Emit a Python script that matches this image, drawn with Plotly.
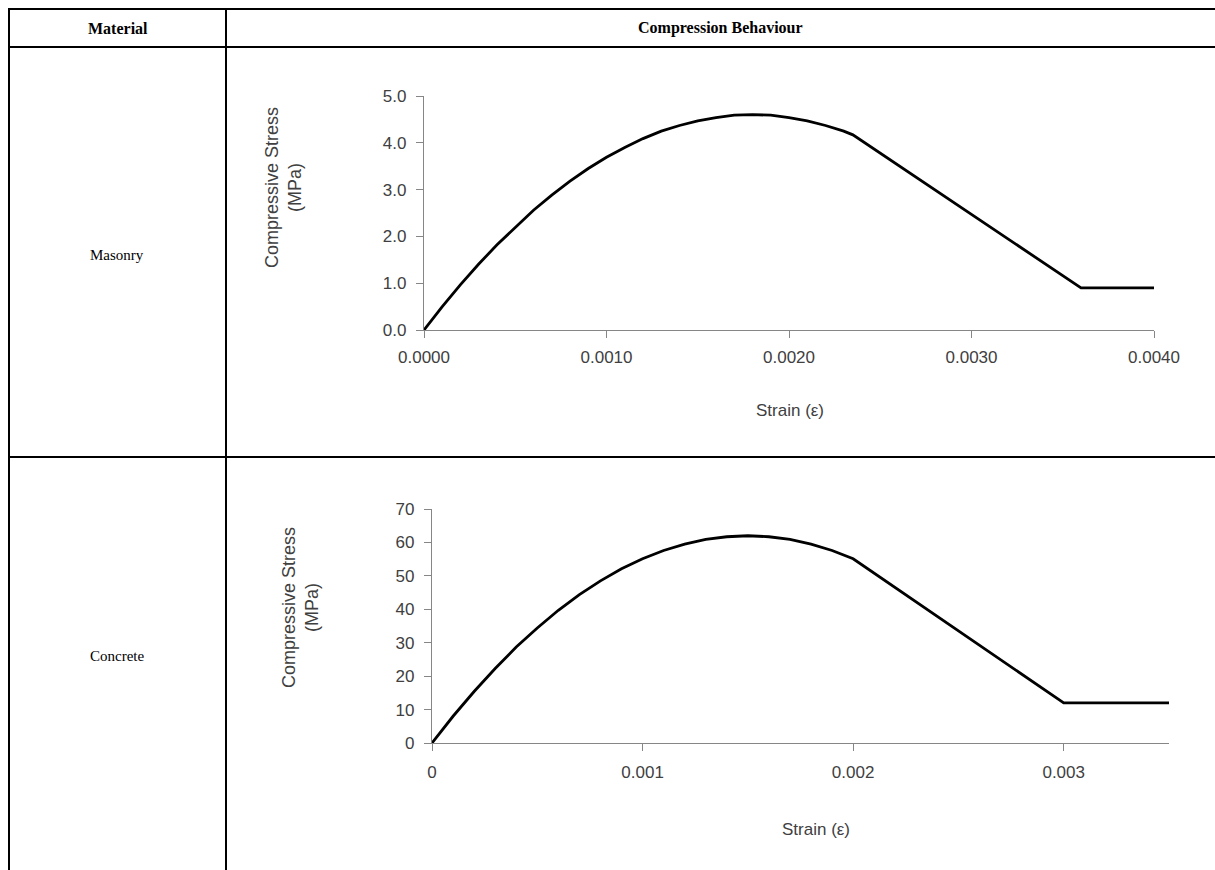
import plotly.graph_objects as go

# ---------------- data ----------------
masonry_strain = [0.0, 0.0001, 0.0002, 0.0003, 0.0004, 0.0005, 0.0006, 0.0007, 0.0008,
                  0.0009, 0.0010, 0.0011, 0.0012, 0.0013, 0.0014, 0.0015, 0.0016,
                  0.0017, 0.0018, 0.0019, 0.0020, 0.0021, 0.0022, 0.0023, 0.00235,
                  0.0036, 0.0040]
masonry_stress = [0.0, 0.50, 0.97, 1.41, 1.82, 2.20, 2.56, 2.88, 3.18,
                  3.45, 3.69, 3.90, 4.09, 4.25, 4.37, 4.47, 4.54,
                  4.59, 4.60, 4.59, 4.54, 4.47, 4.37, 4.25, 4.17,
                  0.90, 0.90]

concrete_strain = [0.0, 0.0001, 0.0002, 0.0003, 0.0004, 0.0005, 0.0006, 0.0007, 0.0008,
                   0.0009, 0.0010, 0.0011, 0.0012, 0.0013, 0.0014, 0.0015, 0.0016,
                   0.0017, 0.0018, 0.0019, 0.0020, 0.0030, 0.0035]
concrete_stress = [0.0, 8.0, 15.4, 22.3, 28.7, 34.4, 39.7, 44.4, 48.5,
                   52.1, 55.1, 57.6, 59.5, 60.9, 61.7, 62.0, 61.7,
                   60.9, 59.5, 57.6, 55.1, 12.0, 12.0]

masonry_xticks = [0.0, 0.001, 0.002, 0.003, 0.004]
masonry_xticktext = ["0.0000", "0.0010", "0.0020", "0.0030", "0.0040"]
masonry_yticks = [0, 1, 2, 3, 4, 5]
masonry_yticktext = ["0.0", "1.0", "2.0", "3.0", "4.0", "5.0"]

concrete_xticks = [0.0, 0.001, 0.002, 0.003]
concrete_xticktext = ["0", "0.001", "0.002", "0.003"]
concrete_yticks = [0, 10, 20, 30, 40, 50, 60, 70]
concrete_yticktext = ["0", "10", "20", "30", "40", "50", "60", "70"]

header_labels = ["Material", "Compression Behaviour"]
row_labels = ["Masonry", "Concrete"]
x_title = "Strain (ε)"
y_title = "Compressive Stress<br>(MPa)"

# ---------------- layout helpers ----------------
W, H = 1215, 870


def px(x):
    return x / W


def py(y):
    return 1 - y / H


AXIS_GRAY = "#868686"
TXT = "#404040"
SANS = "Liberation Sans, Arial, sans-serif"
SERIF = "Liberation Serif, Times New Roman, serif"
TICKFONT = dict(family=SANS, size=17, color=TXT)

fig = go.Figure()
fig.add_trace(go.Scatter(x=masonry_strain, y=masonry_stress, mode="lines",
                         line=dict(color="black", width=2.8), xaxis="x", yaxis="y",
                         showlegend=False, hoverinfo="skip"))
fig.add_trace(go.Scatter(x=concrete_strain, y=concrete_stress, mode="lines",
                         line=dict(color="black", width=2.8), xaxis="x2", yaxis="y2",
                         showlegend=False, hoverinfo="skip"))

common_axis = dict(showline=True, linecolor=AXIS_GRAY, linewidth=1.3, ticks="outside",
                   ticklen=7, tickcolor=AXIS_GRAY, tickwidth=1.3, showgrid=False,
                   zeroline=False, fixedrange=True, tickfont=TICKFONT, automargin=False)

fig.update_layout(
    width=W, height=H, margin=dict(l=0, r=0, t=0, b=0, autoexpand=False),
    paper_bgcolor="white", plot_bgcolor="white", showlegend=False,
    xaxis=dict(domain=[px(424), px(1154)], range=[0, 0.004], tickmode="array",
               tickvals=masonry_xticks, ticktext=masonry_xticktext, anchor="y",
               ticklabelstandoff=4, **common_axis),
    yaxis=dict(domain=[py(330), py(96)], range=[0, 5], tickmode="array",
               tickvals=masonry_yticks, ticktext=masonry_yticktext, anchor="x",
               ticklabelstandoff=6, **common_axis),
    xaxis2=dict(domain=[px(432), px(1169)], range=[0, 0.0035], tickmode="array",
                tickvals=concrete_xticks, ticktext=concrete_xticktext, anchor="y2",
                ticklabelstandoff=6, **common_axis),
    yaxis2=dict(domain=[py(743), py(509)], range=[0, 70], tickmode="array",
                tickvals=concrete_yticks, ticktext=concrete_yticktext, anchor="x2",
                ticklabelstandoff=6, **common_axis),
)

# table lines
line_style = dict(color="black", width=2)
shapes = [
    dict(type="line", xref="paper", yref="paper", x0=px(8), x1=px(1215), y0=py(9), y1=py(9), line=line_style),
    dict(type="line", xref="paper", yref="paper", x0=px(8), x1=px(1215), y0=py(47), y1=py(47), line=line_style),
    dict(type="line", xref="paper", yref="paper", x0=px(8), x1=px(1215), y0=py(457), y1=py(457), line=line_style),
    dict(type="line", xref="paper", yref="paper", x0=px(9), x1=px(9), y0=py(8), y1=py(870), line=line_style),
    dict(type="line", xref="paper", yref="paper", x0=px(226), x1=px(226), y0=py(8), y1=py(870), line=line_style),
]
fig.update_layout(shapes=shapes)

ann = []
ann.append(dict(text="<b>%s</b>" % header_labels[0], x=px(118), y=py(28), xref="paper", yref="paper",
                showarrow=False, font=dict(family=SERIF, size=16, color="black"), xanchor="center", yanchor="middle"))
ann.append(dict(text="<b>%s</b>" % header_labels[1], x=px(720), y=py(28), xref="paper", yref="paper",
                showarrow=False, font=dict(family=SERIF, size=16, color="black"), xanchor="center", yanchor="middle"))
ann.append(dict(text=row_labels[0], x=px(117), y=py(255), xref="paper", yref="paper",
                showarrow=False, font=dict(family=SERIF, size=15, color="black"), xanchor="center", yanchor="middle"))
ann.append(dict(text=row_labels[1], x=px(117), y=py(656), xref="paper", yref="paper",
                showarrow=False, font=dict(family=SERIF, size=15, color="black"), xanchor="center", yanchor="middle"))

# axis titles
ann.append(dict(text=y_title, x=px(283), y=py(188), xref="paper", yref="paper", textangle=-90,
                showarrow=False, font=dict(family=SANS, size=18, color=TXT), xanchor="center", yanchor="middle"))
ann.append(dict(text=y_title, x=px(300), y=py(608), xref="paper", yref="paper", textangle=-90,
                showarrow=False, font=dict(family=SANS, size=18, color=TXT), xanchor="center", yanchor="middle"))
ann.append(dict(text=x_title, x=px(790), y=py(410), xref="paper", yref="paper",
                showarrow=False, font=dict(family=SANS, size=17, color=TXT), xanchor="center", yanchor="middle"))
ann.append(dict(text=x_title, x=px(816), y=py(829), xref="paper", yref="paper",
                showarrow=False, font=dict(family=SANS, size=17, color=TXT), xanchor="center", yanchor="middle"))
fig.update_layout(annotations=ann)

fig.write_html(
    "out.html",
    config=dict(displayModeBar=False),
    post_script=("document.body.style.margin='0';"
                 "document.body.style.overflow='hidden';"
                 "document.documentElement.style.overflow='hidden';"),
)
